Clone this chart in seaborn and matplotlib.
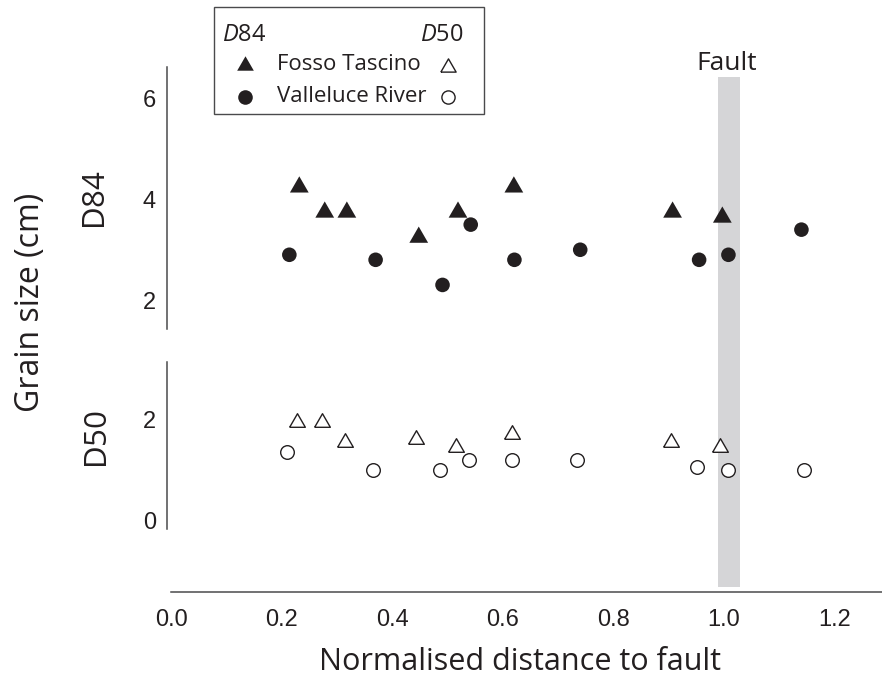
import matplotlib
matplotlib.use("Agg")
import matplotlib.pyplot as plt
import seaborn as sns
import numpy as np
from matplotlib.lines import Line2D
from matplotlib.patches import Rectangle

# ---------------- data ----------------
ft_d84_x = [0.232, 0.278, 0.318, 0.448, 0.519, 0.620, 0.907, 0.997]
ft_d84_y = [4.3, 3.8, 3.8, 3.3, 3.8, 4.3, 3.8, 3.7]
vr_d84_x = [0.214, 0.370, 0.491, 0.542, 0.621, 0.740, 0.955, 1.008, 1.140]
vr_d84_y = [2.9, 2.8, 2.3, 3.5, 2.8, 3.0, 2.8, 2.9, 3.4]

ft_d50_x = [0.228, 0.273, 0.314, 0.443, 0.515, 0.616, 0.904, 0.993]
ft_d50_y = [2.0, 2.0, 1.6, 1.67, 1.5, 1.77, 1.6, 1.5]
vr_d50_x = [0.210, 0.366, 0.487, 0.538, 0.617, 0.735, 0.952, 1.008, 1.144]
vr_d50_y = [1.36, 1.0, 1.0, 1.2, 1.2, 1.2, 1.06, 1.0, 1.0]

x_ticks = [0.0, 0.2, 0.4, 0.6, 0.8, 1.0, 1.2]
x_tick_labels = ["0.0", "0.2", "0.4", "0.6", "0.8", "1.0", "1.2"]
d84_ticks = [2, 4, 6]
d50_ticks = [0, 2]
fault_band = (0.989, 1.029)

series_names = ["Fosso Tascino", "Valleluce River"]

# ---------------- style ----------------
sns.set_style("white")
plt.rcParams["font.family"] = ["Open Sans", "DejaVu Sans"]
plt.rcParams["mathtext.fontset"] = "custom"
plt.rcParams["mathtext.rm"] = "Open Sans"
plt.rcParams["mathtext.it"] = "Open Sans:italic"

INK = "#231f20"
SPINE = "#4a4a4c"
BAND = "#d5d5d7"
TICKFONT = "Liberation Sans"

W, H = 882, 686
fig = plt.figure(figsize=(W / 100, H / 100), dpi=100)


def ax_rect(left_px, top_px, right_px, bottom_px):
    return [left_px / W, 1 - bottom_px / H, (right_px - left_px) / W, (bottom_px - top_px) / H]


px_per_x = 553.0
x0_px = 171.0
left_px = 167.0
xlim = ((left_px - x0_px) / px_per_x, (W - x0_px) / px_per_x)

ax_top = fig.add_axes(ax_rect(left_px, 60, W, 340))
ax_bot = fig.add_axes(ax_rect(left_px, 340, W, 592))
for a in (ax_top, ax_bot):
    a.set_facecolor("none")
    a.set_xlim(*xlim)

ax_top.set_ylim(1.204, 6.776)
ax_bot.set_ylim(-1.406, 3.584)

# fault band (one rectangle through both panels, drawn in the first axes)
ax_top.axvspan(fault_band[0], fault_band[1], ymin=-0.882, ymax=0.939,
               color=BAND, lw=0, clip_on=False, zorder=0)

# markers
tri = [(-1.0, -0.866), (1.0, -0.866), (0.0, 0.866), (-1.0, -0.866)]

sns.scatterplot(x=ft_d84_x, y=ft_d84_y, ax=ax_top, marker=tri, s=13.5 ** 2,
                color=INK, edgecolor="none", linewidth=0, zorder=3)
sns.scatterplot(x=vr_d84_x, y=vr_d84_y, ax=ax_top, marker="o", s=10.5 ** 2,
                color=INK, edgecolor="none", linewidth=0, zorder=3)
sns.scatterplot(x=ft_d50_x, y=ft_d50_y, ax=ax_bot, marker=tri, s=11.3 ** 2,
                facecolor="white", edgecolor=INK, linewidth=1.0, zorder=3)
sns.scatterplot(x=vr_d50_x, y=vr_d50_y, ax=ax_bot, marker="o", s=9.8 ** 2,
                facecolor="white", edgecolor=INK, linewidth=1.0, zorder=3)

# spines & ticks
for a in (ax_top, ax_bot):
    for s in ("top", "right"):
        a.spines[s].set_visible(False)
    a.spines["left"].set_color(SPINE)
    a.spines["left"].set_linewidth(1.1)
    a.tick_params(axis="y", direction="out", length=5.5, width=1.1, color=SPINE,
                  pad=2.5, labelsize=17, labelcolor=INK)
    a.set_ylabel("")
    a.set_xlabel("")

ax_top.spines["bottom"].set_visible(False)
ax_top.set_xticks([])
ax_top.spines["left"].set_bounds(1.42, 6.64)
ax_top.set_yticks(d84_ticks)
ax_top.set_yticklabels([str(t) for t in d84_ticks], fontfamily=TICKFONT)

ax_bot.spines["left"].set_bounds(-0.16, 3.15)
ax_bot.set_yticks(d50_ticks)
ax_bot.set_yticklabels([str(t) for t in d50_ticks], fontfamily=TICKFONT)
ax_bot.spines["bottom"].set_color(SPINE)
ax_bot.spines["bottom"].set_linewidth(1.1)
ax_bot.spines["bottom"].set_bounds(0.0, xlim[1])
ax_bot.set_xticks(x_ticks)
ax_bot.set_xticklabels(x_tick_labels, fontfamily=TICKFONT)
ax_bot.tick_params(axis="x", direction="out", length=5, width=1.1, color=SPINE,
                   pad=7, labelsize=17, labelcolor=INK)

# axis labels
fig.text(520 / W, 1 - 662 / H, "Normalised distance to fault", ha="center",
         va="center", fontsize=22, color=INK)
fig.text(31 / W, 1 - 302 / H, "Grain size (cm)", ha="center", va="center",
         rotation=90, fontsize=23, color=INK)
fig.text(97 / W, 1 - 200 / H, r"D$\mathit{84}$", ha="center", va="center",
         rotation=90, fontsize=22.5, color=INK)
fig.text(99 / W, 1 - 440 / H, r"D$\mathit{50}$", ha="center", va="center",
         rotation=90, fontsize=22.5, color=INK)

# fault label
fig.text(727 / W, 1 - 63 / H, "Fault", ha="center", va="center",
         fontsize=19, color=INK)

# legend (manual box)
fig.add_artist(Rectangle((214 / W, 1 - 114 / H), (484 - 214) / W, (114 - 7) / H,
                         transform=fig.transFigure, facecolor="white",
                         edgecolor=SPINE, linewidth=1.0, zorder=5))
fig.text(222 / W, 1 - 35 / H, r"$\mathit{D}$84", ha="left", va="center",
         fontsize=17, color=INK, zorder=6)
fig.text(464 / W, 1 - 35 / H, r"$\mathit{D}$50", ha="right", va="center",
         fontsize=17, color=INK, zorder=6)
fig.text(277 / W, 1 - 64 / H, series_names[0], ha="left", va="center",
         fontsize=16, color=INK, zorder=6)
fig.text(277 / W, 1 - 97 / H, series_names[1], ha="left", va="center",
         fontsize=16, color=INK, zorder=6)
fig.add_artist(Line2D([245 / W], [1 - 63 / H], transform=fig.transFigure, marker=tri,
                      ms=12, color=INK, mec="none", ls="", zorder=6))
fig.add_artist(Line2D([245 / W], [1 - 97 / H], transform=fig.transFigure, marker="o",
                      ms=10.5, color=INK, mec="none", ls="", zorder=6))
fig.add_artist(Line2D([448 / W], [1 - 65 / H], transform=fig.transFigure, marker=tri,
                      ms=11, mfc="white", mec=INK, mew=1.0, ls="", zorder=6))
fig.add_artist(Line2D([448 / W], [1 - 97 / H], transform=fig.transFigure, marker="o",
                      ms=9.5, mfc="white", mec=INK, mew=1.0, ls="", zorder=6))

fig.savefig("out.png", dpi=100)
